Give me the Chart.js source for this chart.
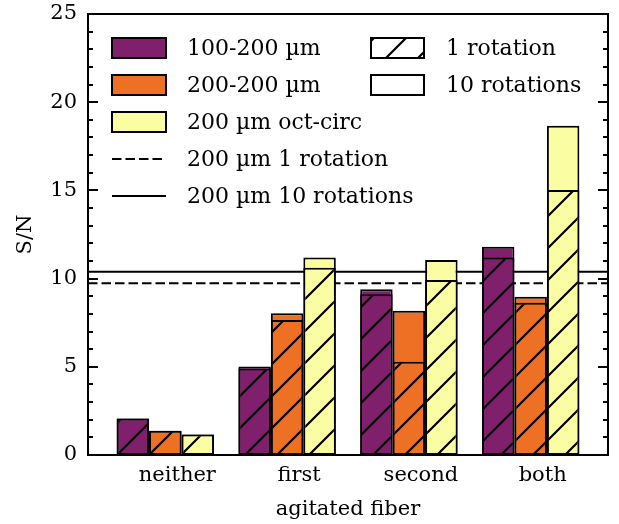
<!DOCTYPE html>
<html>
<head>
<meta charset="utf-8">
<script src="https://cdn.jsdelivr.net/npm/chart.js@4/dist/chart.umd.min.js"></script>
<style>
  html, body { margin: 0; padding: 0; background: #fff; }
  #wrap { width: 619px; height: 524px; }
</style>
</head>
<body>
<div id="wrap"><canvas id="snChart" width="619" height="524"></canvas></div>
<script>
// data
var categories = ["neither", "first", "second", "both"];
var seriesNames = ["100-200 \u00b5m", "200-200 \u00b5m", "200 \u00b5m oct-circ"];
var seriesColors = ["#801f6c", "#ee7024", "#fbfda2"];

// S/N after 1 rotation (hatched part)
var fiber100_rot1 = [2.07, 4.9, 9.11, 11.2];
var fiber200_rot1 = [1.37, 7.65, 5.29, 8.63];
var octCirc_rot1 = [1.16, 10.62, 9.92, 15.02];

// S/N after 10 rotations (full bar)
var fiber100_rot10 = [2.07, 5.02, 9.39, 11.81];
var fiber200_rot10 = [1.37, 8.03, 8.18, 8.97];
var octCirc_rot10 = [1.16, 11.2, 11.05, 18.67];

// reference 200 um lines
var refRot1 = 9.73;
var refRot10 = 10.39;

var yTicks = [0, 5, 10, 15, 20, 25];

var FONT = "'DejaVu Serif', 'Liberation Serif', serif";
var DASH = [9.5, 4];

function makeHatch(color) {
  var c = document.createElement("canvas");
  c.width = 32;
  c.height = 32;
  var g = c.getContext("2d");
  g.fillStyle = color;
  g.fillRect(0, 0, 32, 32);
  g.strokeStyle = "#000";
  g.lineWidth = 2.2;
  g.beginPath();
  for (var k = -1; k <= 1; k++) {
    g.moveTo(-4, 36 + 32 * k);
    g.lineTo(36, -4 + 32 * k);
  }
  g.stroke();
  var p = document.getElementById("snChart").getContext("2d").createPattern(c, "repeat");
  if (p.setTransform) p.setTransform(new DOMMatrix().translate(28, 0));
  return p;
}

function points(values) {
  return values.map(function (v, i) {
    return { x: i, y: v };
  });
}

var rot1 = [fiber100_rot1, fiber200_rot1, octCirc_rot1];
var rot10 = [fiber100_rot10, fiber200_rot10, octCirc_rot10];
var datasets = [];

// hatched 1-rotation bars first so they are painted on top
for (var i = 0; i < 3; i++) {
  datasets.push({
    label: seriesNames[i] + " 1 rotation",
    data: points(rot1[i]),
    backgroundColor: makeHatch(seriesColors[i]),
    borderColor: "#000",
    borderWidth: 2,
    borderSkipped: false,
    stack: "s" + i,
  });
}
for (var i = 0; i < 3; i++) {
  datasets.push({
    label: seriesNames[i] + " 10 rotations",
    data: points(rot10[i]),
    backgroundColor: seriesColors[i],
    borderColor: "#000",
    borderWidth: 2,
    borderSkipped: false,
    stack: "s" + i,
  });
}

var decorPlugin = {
  id: "decor",
  beforeDatasetsDraw: function (chart) {
    var ctx = chart.ctx;
    var area = chart.chartArea;
    var y = chart.scales.y;
    ctx.save();
    ctx.strokeStyle = "#000";
    ctx.lineWidth = 2;
    ctx.setLineDash(DASH);
    ctx.beginPath();
    ctx.moveTo(area.left, y.getPixelForValue(refRot1));
    ctx.lineTo(area.right, y.getPixelForValue(refRot1));
    ctx.stroke();
    ctx.setLineDash([]);
    ctx.beginPath();
    ctx.moveTo(area.left, y.getPixelForValue(refRot10));
    ctx.lineTo(area.right, y.getPixelForValue(refRot10));
    ctx.stroke();
    ctx.restore();
  },
  afterDatasetsDraw: function (chart) {
    var ctx = chart.ctx;
    var area = chart.chartArea;
    var y = chart.scales.y;
    ctx.save();
    ctx.strokeStyle = "#000";
    ctx.lineWidth = 2;
    // inward ticks on both sides
    for (var v = 0; v <= 25; v++) {
      var py = Math.round(y.getPixelForValue(v));
      var len = v % 5 === 0 ? 10 : 5;
      ctx.beginPath();
      ctx.moveTo(area.left, py);
      ctx.lineTo(area.left + len, py);
      ctx.moveTo(area.right, py);
      ctx.lineTo(area.right - len, py);
      ctx.stroke();
    }
    ctx.strokeRect(area.left, area.top, area.right - area.left, area.bottom - area.top);

    // legend
    ctx.font = "22px " + FONT;
    ctx.fillStyle = "#000";
    ctx.textBaseline = "middle";
    var rows = [48, 85, 122, 159, 196];
    for (var i = 0; i < 3; i++) {
      ctx.fillStyle = seriesColors[i];
      ctx.fillRect(112, rows[i] - 10, 54, 20);
      ctx.strokeRect(112, rows[i] - 10, 54, 20);
      ctx.fillStyle = "#000";
      ctx.fillText(seriesNames[i], 187, rows[i] + 1);
    }
    ctx.beginPath();
    ctx.setLineDash(DASH);
    ctx.moveTo(112, rows[3]);
    ctx.lineTo(166, rows[3]);
    ctx.stroke();
    ctx.setLineDash([]);
    ctx.beginPath();
    ctx.moveTo(112, rows[4]);
    ctx.lineTo(166, rows[4]);
    ctx.stroke();
    ctx.fillText("200 \u00b5m 1 rotation", 187, rows[3] + 1);
    ctx.fillText("200 \u00b5m 10 rotations", 187, rows[4] + 1);

    ctx.fillStyle = makeHatch("#ffffff");
    ctx.fillRect(371, rows[0] - 10, 53, 20);
    ctx.strokeRect(371, rows[0] - 10, 53, 20);
    ctx.fillStyle = "#ffffff";
    ctx.fillRect(371, rows[1] - 10, 53, 20);
    ctx.strokeRect(371, rows[1] - 10, 53, 20);
    ctx.fillStyle = "#000";
    ctx.fillText("1 rotation", 446, rows[0] + 1);
    ctx.fillText("10 rotations", 446, rows[1] + 1);
    ctx.restore();
  },
};

new Chart(document.getElementById("snChart"), {
  type: "bar",
  data: { datasets: datasets },
  plugins: [decorPlugin],
  options: {
    responsive: false,
    animation: false,
    events: [],
    layout: { padding: { top: 14, right: 11, left: 0, bottom: 0 } },
    categoryPercentage: 0.8,
    barPercentage: 1.0,
    plugins: {
      legend: { display: false },
      tooltip: { enabled: false },
    },
    scales: {
      x: {
        type: "linear",
        min: -0.635,
        max: 3.635,
        offset: false,
        stacked: true,
        grid: { display: false, drawTicks: false },
        border: { display: false },
        afterBuildTicks: function (scale) {
          scale.ticks = categories.map(function (c, i) {
            return { value: i };
          });
        },
        afterFit: function (scale) {
          scale.height = 69;
          scale.paddingLeft = 0;
          scale.paddingRight = 0;
        },
        ticks: {
          color: "#000",
          font: { family: FONT, size: 21 },
          padding: 8,
          labelOffset: 12,
          maxRotation: 0,
          callback: function (value) {
            return categories[value];
          },
        },
        title: {
          display: true,
          text: "agitated fiber",
          color: "#000",
          font: { family: FONT, size: 21 },
          padding: { top: 0, bottom: 2 },
        },
      },
      y: {
        min: 0,
        max: 25,
        stacked: false,
        grid: { display: false, drawTicks: false },
        border: { display: false },
        afterBuildTicks: function (scale) {
          scale.ticks = yTicks.map(function (v) {
            return { value: v };
          });
        },
        afterFit: function (scale) {
          scale.width = 88;
          scale.paddingTop = 0;
          scale.paddingBottom = 0;
        },
        ticks: {
          color: "#000",
          font: { family: FONT, size: 21 },
          padding: 11,
        },
        title: {
          display: true,
          text: "S/N",
          color: "#000",
          font: { family: FONT, size: 21 },
          padding: { top: 13, bottom: 0 },
        },
      },
    },
  },
});
</script>
</body>
</html>
